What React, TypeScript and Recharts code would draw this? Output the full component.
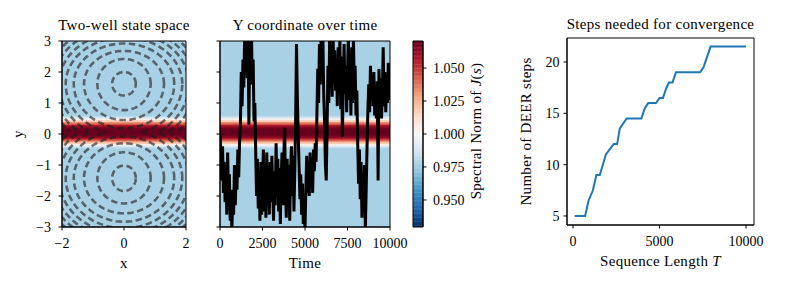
import React from 'react';
import { LineChart, Line, XAxis, YAxis, ReferenceArea, Label } from 'recharts';

const FONT = '"Liberation Serif", "Times New Roman", serif';
const FS = 14;
const LFS = 15;
const W = 793;
const H = 283;

// ---------- state space (panels 1 & 2) ----------
const stateXTicks = [-2, 0, 2];
const stateYTicks = [-3, -2, -1, 0, 1, 2, 3];

// spectral norm field: depends on y only, nested bands around the saddle line
const bandCenterY = 0.06;
const bandHalfWidths = [3.1, 0.53, 0.48, 0.43, 0.38, 0.33, 0.28, 0.23, 0.18, 0.13, 0.08, 0.03];
const bandNorms = [0.977, 0.981, 0.99, 1.004, 1.018, 1.032, 1.045, 1.057, 1.065, 1.069, 1.071, 1.072];

// potential contours (read as ring extents around each well)
const contourRx = [0.38, 0.86, 1.29, 1.62, 1.88, 2.1, 2.3, 2.48, 2.64, 2.8, 2.95, 3.1];
const upperWellY = 1.62;
const upperWellUp = [0.38, 0.8, 1.06, 1.3, 1.5, 1.68, 1.84, 1.99, 2.13, 2.26, 2.38, 2.5];
const upperWellDown = [0.38, 0.85, 1.17, 1.43, 1.64, 1.83, 2.0, 2.16, 2.3, 2.44, 2.57, 2.69];
const lowerWellY = -1.42;
const lowerWellUp = [0.4, 0.83, 1.12, 1.34, 1.55, 1.74, 1.91, 2.07, 2.22, 2.36, 2.49, 2.61];
const lowerWellDown = [0.42, 0.82, 1.14, 1.41, 1.62, 1.8, 1.97, 2.13, 2.28, 2.42, 2.55, 2.67];
const contourCut = 0.04;

// ---------- Y coordinate over time (panel 2) ----------
const timeStep = 50;
const yTrajectory = [
  0.0, -0.6, -1.5, -0.4, -1.9, -0.9, -2.2, -1.2, -2.6, -0.6, -2.0, -1.3, -2.8, -2.2, -3.1, -1.8, -2.6, -1.0, -2.3, -1.2, -1.8, -0.5, -1.4, -0.3,
  0.3, 2.0, 0.9, 2.4, 1.5, 3.2, 2.3, 3.3, 1.8, 3.2, 0.3, 3.1, 2.2, 3.3,
  1.6, 2.4, 0.4, 1.0, -0.6, -2.0,
  -0.8, -2.4, -1.2, -2.8, -0.9, -2.6, -1.5, -0.5, -2.5, -1.0, -2.7, -0.6, -2.0, -1.1, -2.6, -0.9, -2.2, -0.7, -1.8, -2.8, -1.2, -2.3, -0.3, -1.9, -0.8,
  -2.5, -1.1, -2.9, -1.4, -0.6, -2.3, -0.9, 0.2, -1.6, -2.7, -0.8, -2.2, -1.0, -2.8, -1.3, -0.4, -2.0, -0.7, -2.5, -1.2,
  0.5, 2.9, 1.2, 0.0, -1.0, -2.1, -1.3, -2.6, -1.6, -2.9, -2.2, -3.1, -1.8,
  -0.7, -1.9, -0.9, -2.0, -0.6, -1.5, -0.8, -1.9, -0.5, -1.2, -0.3, -0.9,
  0.6, 2.1, 1.0, 2.9, 1.6, 3.3, 2.0, 3.2, 1.3, 0.4, -1.0, -1.5, 0.2, 2.2, 1.0, 3.1, 1.8, 2.6, 1.2, 3.2, 1.9, 2.7, 1.4, 2.4,
  0.9, 2.8, 1.5, 3.1, 0.8, 2.5, -0.1, 1.6, 2.9, 1.3, 2.2, 0.7, 1.9, 3.2, 1.1, 2.4, 0.6, 2.8, 1.0, 3.1, 1.5, 2.2, 0.6, 1.4,
  -0.3, -1.6, -0.5, -2.1, -0.9, -2.7, -1.4, -2.3, -1.0, -3.1, -1.8, -0.4,
  0.8, 1.6, 0.7, 2.2, 1.2, 1.9, 0.9, 2.0, 0.6, 1.4, 0.5, 1.7, -1.5, 2.1, 1.0, 1.8, 0.5, 1.3, 2.8, 0.9, 2.0, 0.7, 1.6, 1.0, 2.3, 1.1, 1.9,
];
const timeTicks = [0, 2500, 5000, 7500, 10000];

// ---------- colorbar ----------
const normDomain = [0.9295, 1.0705];
const normTicks = [0.95, 0.975, 1.0, 1.025, 1.05];

// ---------- steps needed (panel 3) ----------
const seqLength = [100, 700, 900, 1150, 1350, 1550, 1900, 2350, 2550, 2700, 3100, 3950, 4150, 4350, 4800, 5000, 5200, 5400, 5550, 5750, 5950, 7350, 7550, 7950, 10000];
const deerSteps = [5, 5, 6.5, 7.5, 9, 9, 11, 12, 12, 13.5, 14.5, 14.5, 15.5, 16, 16, 16.5, 16.5, 17.5, 18, 18, 19, 19, 19.5, 21.5, 21.5];
const seqTicks = [0, 5000, 10000];
const stepTicks = [5, 10, 15, 20];

// ---------- helpers ----------
const RDBU_R = ['#053061', '#2166ac', '#4393c3', '#92c5de', '#d1e5f0', '#f7f7f7', '#fddbc7', '#f4a582', '#d6604d', '#b2182b', '#67001f'];
function hexToRgb(h: string) {
  return [parseInt(h.slice(1, 3), 16), parseInt(h.slice(3, 5), 16), parseInt(h.slice(5, 7), 16)];
}
function cmap(v: number) {
  const t = Math.min(1, Math.max(0, (v - normDomain[0]) / (normDomain[1] - normDomain[0])));
  const p = t * (RDBU_R.length - 1);
  const i = Math.min(RDBU_R.length - 2, Math.floor(p));
  const f = p - i;
  const a = hexToRgb(RDBU_R[i]);
  const b = hexToRgb(RDBU_R[i + 1]);
  return `rgb(${Math.round(a[0] + (b[0] - a[0]) * f)},${Math.round(a[1] + (b[1] - a[1]) * f)},${Math.round(a[2] + (b[2] - a[2]) * f)})`;
}
const minusFmt = (v: number) => (v < 0 ? '\u2212' + Math.abs(v) : String(v));

function ringPoints(cy: number, rx: number, ryUp: number, ryDown: number, above: boolean) {
  const pts: { x: number; y: number | null }[] = [];
  const n = 120;
  for (let k = 0; k <= n; k++) {
    const th = (k / n) * 2 * Math.PI;
    const s = Math.sin(th);
    const x = rx * Math.cos(th);
    const y = cy + (s >= 0 ? ryUp : ryDown) * s;
    const keep = above ? y >= contourCut : y <= contourCut;
    pts.push({ x, y: keep ? y : null });
  }
  return pts;
}

const rings: { x: number; y: number | null }[][] = [];
contourRx.forEach((rx, k) => {
  rings.push(ringPoints(upperWellY, rx, upperWellUp[k], upperWellDown[k], true));
  rings.push(ringPoints(lowerWellY, rx, lowerWellUp[k], lowerWellDown[k], false));
});

const trajectoryData = yTrajectory.map((y, i) => ({ t: i * timeStep, y }));
const stepsData = seqLength.map((T, i) => ({ T, steps: deerSteps[i] }));

const colorbarBands: number[] = [];
for (let k = 0; normDomain[0] + k * 0.001 < normDomain[1]; k++) colorbarBands.push(normDomain[0] + k * 0.001);
const colorbarData = colorbarBands.map((v) => ({ x: 0.5, norm: v }));

type Part = { t: string; i?: boolean };
const renderParts = (parts: Part[]) =>
  parts.map((p, k) => (
    <tspan key={k} fontStyle={p.i ? 'italic' : 'normal'}>
      {p.t}
    </tspan>
  ));

const hLabel = (parts: Part[], dy: number) => (props: any) => {
  const vb = props.viewBox || {};
  const x = vb.x + vb.width / 2;
  const y = vb.y + dy;
  return (
    <text x={x} y={y} textAnchor="middle" fill="#000" fontSize={LFS} letterSpacing={0.3} fontFamily={FONT}>
      {renderParts(parts)}
    </text>
  );
};
const vLabel = (parts: Part[], dx: number, dyc = 0) => (props: any) => {
  const vb = props.viewBox || {};
  const x = vb.x + dx;
  const y = vb.y + vb.height / 2 + dyc;
  return (
    <text x={x} y={y} transform={`rotate(-90 ${x} ${y})`} textAnchor="middle" fill="#000" fontSize={LFS} letterSpacing={0.3} fontFamily={FONT}>
      {renderParts(parts)}
    </text>
  );
};

const tickStyle = { fill: '#000', fontSize: FS, fontFamily: FONT };
const axisLineStyle = { stroke: '#000', strokeWidth: 1 };

const heatBands = (prefix: string) =>
  bandHalfWidths.map((hw, i) => (
    <ReferenceArea
      key={prefix + i}
      y1={Math.max(-3, bandCenterY - hw)}
      y2={Math.min(3, bandCenterY + hw)}
      fill={cmap(bandNorms[i])}
      fillOpacity={1}
      stroke="none"
      ifOverflow="hidden"
    />
  ));

const abs: React.CSSProperties = { position: 'absolute', left: 0, top: 0 };

export default function App() {
  return (
    <div style={{ position: 'absolute', left: 0, top: 0, width: W, height: H, background: '#fff', fontFamily: FONT }}>
      {/* Panel 1: Two-well state space */}
      <div style={abs}>
        <LineChart width={W} height={H} margin={{ top: 41, right: 607, bottom: 10, left: 12 }}>
          <XAxis type="number" dataKey="x" domain={[-2, 2]} ticks={stateXTicks} allowDataOverflow height={46}
            tickSize={3.5} tickMargin={8} tick={tickStyle} tickFormatter={minusFmt} axisLine={axisLineStyle} tickLine={axisLineStyle}>
            <Label content={hLabel([{ t: 'x' }], 41)} />
          </XAxis>
          <YAxis type="number" domain={[-3, 3]} ticks={stateYTicks} allowDataOverflow width={50}
            tickSize={3.5} tickMargin={7.5} tick={tickStyle} tickFormatter={minusFmt} axisLine={axisLineStyle} tickLine={axisLineStyle}>
            <Label content={vLabel([{ t: 'y' }], 10.5)} />
          </YAxis>
          {heatBands('p1-')}
          {rings.map((pts, k) => (
            <Line key={'ring' + k} data={pts} dataKey="y" type="linear" dot={false} activeDot={false}
              stroke="#1a1a1a" strokeOpacity={0.6} strokeWidth={2.6} strokeDasharray="6.5 3.5"
              isAnimationActive={false} connectNulls={false} />
          ))}
          <ReferenceArea x1={-2} x2={2} y1={-3} y2={3} fill="none" fillOpacity={0} stroke="#000" strokeWidth={1}>
            <Label content={hLabel([{ t: 'Two-well state space' }], -11.5)} />
          </ReferenceArea>
        </LineChart>
      </div>

      {/* Panel 2: Y coordinate over time */}
      <div style={abs}>
        <LineChart width={W} height={H} margin={{ top: 41, right: 403, bottom: 10, left: 210 }}>
          <XAxis type="number" dataKey="t" domain={[0, 10000]} ticks={timeTicks} allowDataOverflow height={46}
            tickSize={3.5} tickMargin={8} tick={tickStyle} axisLine={axisLineStyle} tickLine={axisLineStyle}>
            <Label content={hLabel([{ t: 'Time' }], 41)} />
          </XAxis>
          <YAxis type="number" domain={[-3, 3]} ticks={stateYTicks} allowDataOverflow width={10}
            tickSize={3.5} tick={tickStyle} tickFormatter={() => ''} axisLine={axisLineStyle} tickLine={axisLineStyle} />
          {heatBands('p2-')}
          <Line data={trajectoryData} dataKey="y" type="linear" dot={false} activeDot={false}
            stroke="#000" strokeWidth={3} strokeLinejoin="miter" isAnimationActive={false} />
          <ReferenceArea x1={0} x2={10000} y1={-3} y2={3} fill="none" fillOpacity={0} stroke="#000" strokeWidth={1}>
            <Label content={hLabel([{ t: 'Y coordinate over time' }], -11)} />
          </ReferenceArea>
        </LineChart>
      </div>

      {/* Colorbar */}
      <div style={abs}>
        <LineChart width={W} height={H} data={colorbarData} margin={{ top: 41, right: 310, bottom: 56, left: 413 }}>
          <XAxis type="number" dataKey="x" domain={[0, 1]} hide />
          <YAxis type="number" orientation="right" domain={normDomain} ticks={normTicks} allowDataOverflow width={60}
            tickSize={3.5} tickMargin={6.5} tick={tickStyle} tickFormatter={(v: number) => v.toFixed(3)}
            axisLine={axisLineStyle} tickLine={axisLineStyle}>
            <Label content={vLabel([{ t: 'Spectral Norm of ' }, { t: 'J', i: true }, { t: '(' }, { t: 's', i: true }, { t: ')' }], 58, -3)} />
          </YAxis>
          {colorbarBands.map((v, k) => (
            <ReferenceArea key={'cb' + k} x1={0} x2={1} y1={v} y2={Math.min(normDomain[1], v + 0.0013)} fill={cmap(v + 0.0005)}
              fillOpacity={1} stroke="none" ifOverflow="hidden" />
          ))}
          <ReferenceArea x1={0} x2={1} y1={normDomain[0]} y2={normDomain[1]} fill="none" fillOpacity={0} stroke="#000" strokeWidth={1} />
        </LineChart>
      </div>

      {/* Panel 3: Steps needed for convergence */}
      <div style={abs}>
        <LineChart width={W} height={H} data={stepsData} margin={{ top: 38, right: 39, bottom: 12, left: 507 }}>
          <XAxis type="number" dataKey="T" domain={[-347, 10462]} ticks={seqTicks} allowDataOverflow height={46}
            tickSize={3.5} tickMargin={7.5} tick={tickStyle} axisLine={axisLineStyle} tickLine={axisLineStyle}>
            <Label content={hLabel([{ t: 'Sequence Length ' }, { t: 'T', i: true }], 40.5)} />
          </XAxis>
          <YAxis type="number" domain={[4.12, 22.34]} ticks={stepTicks} allowDataOverflow width={60}
            tickSize={3.5} tickMargin={4} tick={tickStyle} axisLine={axisLineStyle} tickLine={axisLineStyle}>
            <Label content={vLabel([{ t: 'Number of DEER steps' }], 24)} />
          </YAxis>
          <Line dataKey="steps" type="linear" dot={false} activeDot={false} stroke="#1f77b4" strokeWidth={2}
            isAnimationActive={false} />
          <ReferenceArea x1={-347} x2={10462} y1={4.12} y2={22.34} fill="none" fillOpacity={0} stroke="#000" strokeWidth={1}>
            <Label content={hLabel([{ t: 'Steps needed for convergence' }], -9.5)} />
          </ReferenceArea>
        </LineChart>
      </div>
    </div>
  );
}
